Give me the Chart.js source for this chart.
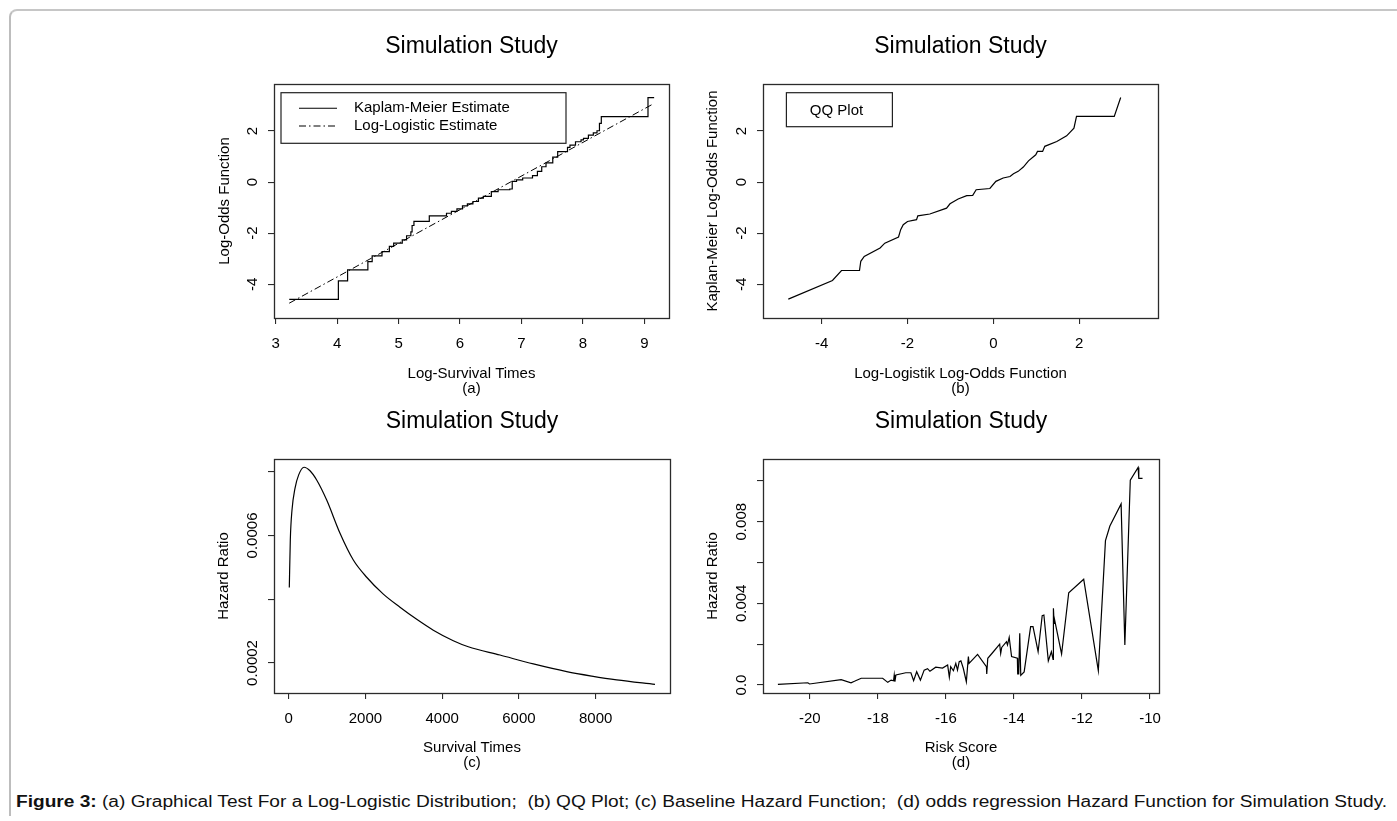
<!DOCTYPE html>
<html>
<head>
<meta charset="utf-8">
<script src="https://cdn.jsdelivr.net/npm/chart.js@4.4.0/dist/chart.umd.min.js"></script>
<style>
  html, body { margin: 0; padding: 0; background: #fff; }
  body { width: 1397px; height: 821px; position: relative; overflow: hidden; font-family: "Liberation Sans", Arial, Helvetica, sans-serif; }
  #frame { position: absolute; left: 9px; top: 9px; width: 1400px; height: 805px; border-top: 2px solid #c6c6c6; border-left: 2px solid #bdbdbd; border-top-left-radius: 8px; }
  canvas { position: absolute; }
  #ca { left: 190px; top: 0px; }
  #cb { left: 680px; top: 0px; }
  #cc { left: 190px; top: 375px; }
  #cd { left: 680px; top: 375px; }
  #caption { position: absolute; left: 16px; top: 793px; font-size: 16px; line-height: 18px; color: #111; white-space: pre;
    transform: scaleX(1.194); transform-origin: 0 50%; }
</style>
</head>
<body>
<div id="frame"></div>
<canvas id="ca" width="500" height="400"></canvas>
<canvas id="cb" width="500" height="400"></canvas>
<canvas id="cc" width="500" height="400"></canvas>
<canvas id="cd" width="500" height="400"></canvas>
<div id="caption"><b>Figure 3:</b> (a) Graphical Test For a Log-Logistic Distribution;  (b) QQ Plot; (c) Baseline Hazard Function;  (d) odds regression Hazard Function for Simulation Study.</div>

<script>
// Data

// (a) Kaplan-Meier log-odds step function vs log survival time
const kmX = [3.22, 4.02, 4.17, 4.50, 4.57, 4.73, 4.85, 4.92, 5.06, 5.13, 5.20, 5.22, 5.25, 5.50, 5.78, 5.86, 5.95, 6.04, 6.12, 6.21,
  6.30, 6.38, 6.51, 6.62, 6.81, 6.85, 6.92, 7.02, 7.18, 7.26, 7.33, 7.40, 7.51, 7.59, 7.75, 7.79, 7.88, 7.97, 8.01, 8.09,
  8.17, 8.23, 8.27, 8.30, 9.06, 9.16];
const kmY = [-4.59, -3.87, -3.44, -3.11, -2.89, -2.72, -2.52, -2.39, -2.26, -2.10, -1.95, -1.70, -1.54, -1.32, -1.22, -1.15, -1.05, -0.93, -0.85, -0.76,
  -0.63, -0.56, -0.37, -0.30, -0.27, 0.03, 0.09, 0.16, 0.25, 0.42, 0.60, 0.75, 0.98, 1.19, 1.36, 1.45, 1.58, 1.65, 1.71, 1.84,
  1.93, 2.01, 2.30, 2.56, 3.31, 3.31];
// (a) fitted log-logistic line
const llX = [3.22, 9.16];
const llY = [-4.74, 3.08];

// (b) QQ plot
const qqX = [-4.78, -3.75, -3.54, -3.12, -3.09, -3.01, -2.64, -2.53, -2.21, -2.16, -2.10, -2.00, -1.79, -1.76, -1.48, -1.09, -1.01, -0.82, -0.62, -0.48,
  -0.40, -0.08, 0.06, 0.23, 0.39, 0.47, 0.58, 0.70, 0.82, 0.99, 1.03, 1.15, 1.20, 1.48, 1.71, 1.88, 1.94, 2.82, 2.97];
const qqY = [-4.58, -3.85, -3.46, -3.46, -3.10, -2.91, -2.58, -2.39, -2.15, -1.86, -1.67, -1.54, -1.47, -1.32, -1.25, -1.02, -0.85, -0.66, -0.53, -0.52,
  -0.30, -0.25, 0.03, 0.16, 0.22, 0.33, 0.42, 0.59, 0.83, 1.07, 1.20, 1.20, 1.40, 1.59, 1.81, 2.11, 2.57, 2.57, 3.31];

// (c) baseline hazard
const hazTime = [16, 42, 86, 164, 260, 399, 555, 729, 990, 1337, 1684, 2032, 2466, 2900, 3336, 3768, 4289, 4680, 5506, 6375, 7244, 7896, 8547, 9545];
const hazRatio = [0.000437, 0.000586, 0.00068, 0.000748, 0.00079, 0.000814, 0.000803, 0.000774, 0.000711, 0.000607, 0.000523, 0.000469,
  0.000416, 0.000375, 0.000337, 0.000303, 0.00027, 0.000251, 0.000225, 0.000197, 0.000173, 0.000159, 0.000147, 0.000133];

// (d) hazard vs risk score
const riskScore = [-20.94, -20.06, -20.01, -19.08, -18.79, -18.69, -18.49, -17.86, -17.71, -17.61, -17.54, -17.52, -17.50, -17.47, -17.18, -17.03,
  -16.95, -16.86, -16.75, -16.64, -16.54, -16.47, -16.30, -16.10, -15.95, -15.90, -15.86, -15.78, -15.71, -15.66, -15.61, -15.56, -15.49, -15.40,
  -15.34, -15.32, -15.07, -14.81, -14.80, -14.77, -14.63, -14.42, -14.39, -14.36, -14.22, -14.19, -14.14, -14.07, -13.90, -13.89, -13.86, -13.83,
  -13.80, -13.70, -13.51, -13.44, -13.29, -13.17, -13.12, -12.99, -12.90, -12.85, -12.84, -12.82, -12.80, -12.60, -12.39, -11.95, -11.52, -11.31,
  -11.18, -10.85, -10.74, -10.58, -10.35, -10.33, -10.22];
const riskHazard = [0.00003, 0.00011, 0.00005, 0.00026, 0.00011, 0.00018, 0.00033, 0.00033, 0.00013, 0.00024, 0.00021, 0.00049, 0.00016, 0.00049,
  0.0006, 0.0006, 0.00021, 0.00065, 0.00024, 0.00073, 0.0008, 0.00067, 0.00087, 0.00083, 0.00098, 0.00038, 0.0009, 0.0007, 0.00106, 0.00073,
  0.00114, 0.00118, 0.00082, 0.00016, 0.00139, 0.00106, 0.0015, 0.0009, 0.00054, 0.00131, 0.00158, 0.002, 0.00155, 0.00184, 0.00212, 0.00196,
  0.00233, 0.00139, 0.00131, 0.00054, 0.00054, 0.00253, 0.00047, 0.00064, 0.00286, 0.00286, 0.00163, 0.0034, 0.00343, 0.00118, 0.00163, 0.00126,
  0.00376, 0.00302, 0.00315, 0.00152, 0.00452, 0.00518, 0.0007, 0.00707, 0.00779, 0.00887, 0.00196, 0.01004, 0.01066, 0.01012, 0.01012];

// tick positions and labels
const aTicksX = [3, 4, 5, 6, 7, 8, 9];
const aLabelsX = ['3', '4', '5', '6', '7', '8', '9'];
const logOddsTicks = [-4, -2, 0, 2];
const logOddsLabels = ['-4', '-2', '0', '2'];
const bTicksX = [-4, -2, 0, 2];
const bLabelsX = ['-4', '-2', '0', '2'];
const cTicksX = [0, 2000, 4000, 6000, 8000];
const cLabelsX = ['0', '2000', '4000', '6000', '8000'];
const cTicksY = [0.0002, 0.0004, 0.0006, 0.0008];
const cLabelsY = ['0.0002', '', '0.0006', ''];
const dTicksX = [-20, -18, -16, -14, -12, -10];
const dLabelsX = ['-20', '-18', '-16', '-14', '-12', '-10'];
const dTicksY = [0, 0.002, 0.004, 0.006, 0.008, 0.010];
const dLabelsY = ['0.0', '', '0.004', '', '0.008', ''];


const FONT = '"Liberation Sans", Arial, Helvetica, sans-serif';
Chart.defaults.font.family = FONT;
Chart.defaults.color = '#000';

function pts(xs, ys) {
  return xs.map((x, i) => ({ x: x, y: ys[i] }));
}

// R-like box, rotated y tick labels and boxed legend
const rBox = {
  id: 'rBox',
  afterDraw(chart, args, opts) {
    const ctx = chart.ctx;
    const a = chart.chartArea;
    ctx.save();
    ctx.strokeStyle = '#2b2b2b';
    ctx.lineWidth = 1.3;
    ctx.strokeRect(Math.round(a.left) + 0.5, Math.round(a.top) + 0.5, Math.round(a.right - a.left), Math.round(a.bottom - a.top));

    const ys = chart.scales.y;
    ctx.fillStyle = '#000';
    ctx.font = '15px ' + FONT;
    ctx.textAlign = 'center';
    ctx.textBaseline = 'middle';
    ys.ticks.forEach(function (t) {
      if (!t.label) return;
      ctx.save();
      ctx.translate(a.left - 21, ys.getPixelForValue(t.value));
      ctx.rotate(-Math.PI / 2);
      ctx.fillText(t.label, 0, 0);
      ctx.restore();
    });

    const lg = opts.legend;
    if (lg) {
      ctx.lineWidth = 1.2;
      ctx.strokeStyle = '#222';
      ctx.strokeRect(a.left + lg.x, a.top + lg.y, lg.w, lg.h);
      ctx.textAlign = lg.textAlign || 'left';
      lg.rows.forEach(function (r, i) {
        const ds = chart.data.datasets[i];
        const y = a.top + r.y;
        if (lg.lines) {
          ctx.setLineDash(ds.borderDash || []);
          ctx.strokeStyle = '#000';
          ctx.lineWidth = 1.1;
          ctx.beginPath();
          ctx.moveTo(a.left + lg.lines[0], y);
          ctx.lineTo(a.left + lg.lines[1], y);
          ctx.stroke();
          ctx.setLineDash([]);
        }
        ctx.fillText(r.text || ds.label, a.left + lg.textX, y);
      });
    }
    ctx.restore();
  }
};

function panel(id, cfg) {
  const tickGrid = { drawOnChartArea: false, drawTicks: true, tickLength: 6, tickColor: '#2b2b2b', lineWidth: 1.1 };
  return new Chart(document.getElementById(id), {
    type: 'scatter',
    data: { datasets: cfg.datasets },
    options: {
      responsive: false,
      animation: false,
      devicePixelRatio: 1,
      layout: { padding: { left: 0, right: cfg.padRight, top: 0, bottom: 0 } },
      plugins: {
        legend: { display: false },
        tooltip: { enabled: false },
        title: {
          display: true, text: 'Simulation Study', fullSize: false, color: '#000',
          font: { size: 23, weight: 'normal' }, padding: { top: 33.2, bottom: 23.2 }
        },
        rBox: { legend: cfg.legend }
      },
      scales: {
        x: {
          type: 'linear', min: cfg.xMin, max: cfg.xMax,
          afterBuildTicks: function (s) { s.ticks = cfg.xTicks.map(v => ({ value: v })); },
          afterFit: function (s) { s.height = 82; },
          ticks: { autoSkip: false, maxRotation: 0, padding: 11, font: { size: 15 }, color: '#000',
            callback: function (v, i) { return cfg.xLabels[i]; } },
          grid: tickGrid,
          border: { display: false },
          title: { display: true, text: [cfg.xTitle, cfg.tag], color: '#000', font: { size: 15, lineHeight: 1 },
            padding: { top: 0, bottom: cfg.xTitlePad } }
        },
        y: {
          type: 'linear', min: cfg.yMin, max: cfg.yMax,
          afterBuildTicks: function (s) { s.ticks = cfg.yTicks.map(v => ({ value: v })); },
          afterFit: function (s) { s.width = cfg.yWidth; },
          ticks: { display: false, autoSkip: false, callback: function (v, i) { return cfg.yLabels[i]; } },
          grid: tickGrid,
          border: { display: false },
          title: { display: true, text: cfg.yTitle, color: '#000', font: { size: 15 },
            padding: { top: cfg.yTitlePad, bottom: 0 } }
        }
      }
    },
    plugins: [rBox]
  });
}

const lineStyle = { showLine: true, pointRadius: 0, borderColor: '#000', borderWidth: 1.2, fill: false };

// (a)
panel('ca', {
  datasets: [
    Object.assign({ label: 'Kaplam-Meier Estimate', data: pts(kmX, kmY), stepped: 'before' }, lineStyle),
    Object.assign({ label: 'Log-Logistic Estimate', data: pts(llX, llY) }, lineStyle, { borderWidth: 1, borderDash: [7, 3, 1.5, 3] })
  ],
  xMin: 2.972, xMax: 9.402, yMin: -5.32, yMax: 3.84,
  xTicks: aTicksX, xLabels: aLabelsX, yTicks: logOddsTicks, yLabels: logOddsLabels,
  xTitle: 'Log-Survival Times', tag: '(a)', yTitle: 'Log-Odds Function',
  padRight: 21, yWidth: 84, yTitlePad: 26, xTitlePad: 3.5,
  legend: { x: 7, y: 8.7, w: 285, h: 50.6, lines: [25, 63], textX: 80, rows: [{ y: 24.3 }, { y: 42 }] }
});

// (b)
panel('cb', {
  datasets: [Object.assign({ label: 'QQ Plot', data: pts(qqX, qqY) }, lineStyle)],
  xMin: -5.37, xMax: 3.84, yMin: -5.32, yMax: 3.84,
  xTicks: bTicksX, xLabels: bLabelsX, yTicks: logOddsTicks, yLabels: logOddsLabels,
  xTitle: 'Log-Logistik Log-Odds Function', tag: '(b)', yTitle: 'Kaplan-Meier Log-Odds Function',
  padRight: 22, yWidth: 83, yTitlePad: 24, xTitlePad: 3.5,
  legend: { x: 23.4, y: 8.7, w: 106, h: 34, textX: 73.5, textAlign: 'center', rows: [{ y: 27 }] }
});

// (c)
panel('cc', {
  datasets: [Object.assign({ label: 'Baseline hazard', data: pts(hazTime, hazRatio), cubicInterpolationMode: 'monotone' }, lineStyle)],
  xMin: -383, xMax: 9936, yMin: 0.0001059, yMax: 0.00083983,
  xTicks: cTicksX, xLabels: cLabelsX, yTicks: cTicksY, yLabels: cLabelsY,
  xTitle: 'Survival Times', tag: '(c)', yTitle: 'Hazard Ratio',
  padRight: 20, yWidth: 84, yTitlePad: 25, xTitlePad: 4.5
});

// (d)
panel('cd', {
  datasets: [Object.assign({ label: 'Hazard', data: pts(riskScore, riskHazard) }, lineStyle)],
  xMin: -21.378, xMax: -9.736, yMin: -0.000392, yMax: 0.011072,
  xTicks: dTicksX, xLabels: dLabelsX, yTicks: dTicksY, yLabels: dLabelsY,
  xTitle: 'Risk Score', tag: '(d)', yTitle: 'Hazard Ratio',
  padRight: 21, yWidth: 83, yTitlePad: 24, xTitlePad: 4.5
});
</script>
</body>
</html>
